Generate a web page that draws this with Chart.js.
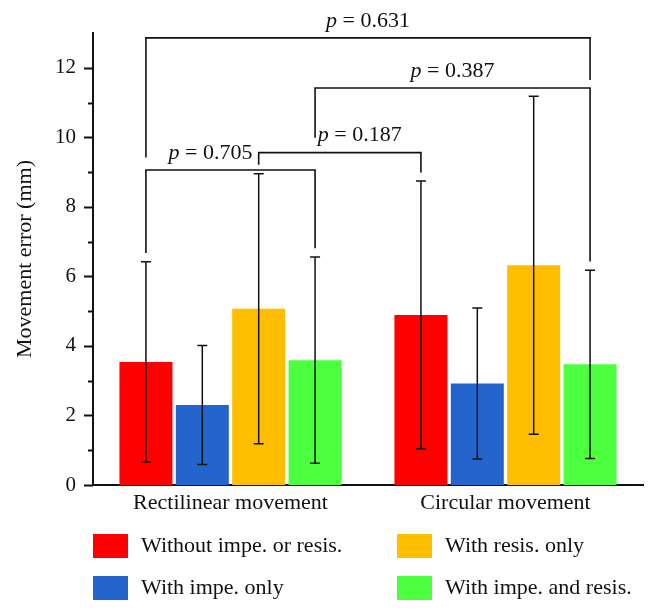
<!DOCTYPE html>
<html lang="en">
<head>
<meta charset="UTF-8" />
<title>Movement error</title>
<style>
  * { margin: 0; padding: 0; box-sizing: border-box; }
  body { background: #fff; }
  .chartBox { width: 658px; height: 614px; }
</style>
</head>
<body>
<div class="chartBox"><canvas id="myChart"></canvas></div>
<script src="https://cdn.jsdelivr.net/npm/chart.js"></script>
<script>
const categories = ["Rectilinear movement", "Circular movement"];
const seriesLabels = ["Without impe. or resis.", "With impe. only", "With resis. only", "With impe. and resis."];
const meanWithout = [3.54, 4.89];
const meanImpe = [2.30, 2.92];
const meanResis = [5.07, 6.32];
const meanBoth = [3.59, 3.47];
const sdWithout = [2.88, 3.85];
const sdImpe = [1.71, 2.17];
const sdResis = [3.885, 4.86];
const sdBoth = [2.965, 2.705];
const yTicks = [0, 2, 4, 6, 8, 10, 12];

// significance brackets, ends given as [category, series]
const pValues = ["0.705", "0.187", "0.387", "0.631"];
const bracketFrom = [[0, 0], [0, 2], [0, 3], [0, 0]];
const bracketTo = [[0, 3], [1, 0], [1, 3], [1, 3]];
const bracketLevel = [9.06, 9.56, 11.42, 12.86];
const legFromEnd = [6.67, 9.21, 9.99, 9.42];
const legToEnd = [6.81, 8.99, 6.43, 11.65];

const colors = ["#fe0000", "#2465cd", "#ffbe00", "#4cff3f"];
const labelShift = [-20, 20, 0, 0];
const FONT = "'Liberation Serif', 'Times New Roman', serif";
const INK = "#111";

const means = [meanWithout, meanImpe, meanResis, meanBoth];
const sds = [sdWithout, sdImpe, sdResis, sdBoth];

const data = {
  labels: categories,
  datasets: seriesLabels.map((label, i) => ({
    label: label,
    data: means[i],
    errors: sds[i],
    backgroundColor: colors[i],
    borderWidth: 0,
    categoryPercentage: 0.82,
    barPercentage: 0.94,
  })),
};

const errorBars = {
  id: "errorBars",
  afterDatasetsDraw(chart) {
    const { ctx, scales: { y } } = chart;
    ctx.save();
    ctx.strokeStyle = INK;
    ctx.lineWidth = 1.5;
    chart.data.datasets.forEach((ds, i) => {
      chart.getDatasetMeta(i).data.forEach((bar, j) => {
        const hi = y.getPixelForValue(ds.data[j] + ds.errors[j]);
        const lo = y.getPixelForValue(ds.data[j] - ds.errors[j]);
        ctx.beginPath();
        ctx.moveTo(bar.x, hi);
        ctx.lineTo(bar.x, lo);
        ctx.moveTo(bar.x - 5, hi);
        ctx.lineTo(bar.x + 5, hi);
        ctx.moveTo(bar.x - 5, lo);
        ctx.lineTo(bar.x + 5, lo);
        ctx.stroke();
      });
    });
    ctx.restore();
  },
};

const brackets = {
  id: "brackets",
  afterDatasetsDraw(chart) {
    const { ctx, scales: { y } } = chart;
    ctx.save();
    ctx.strokeStyle = INK;
    ctx.fillStyle = INK;
    ctx.lineWidth = 1.6;
    ctx.textBaseline = "middle";
    pValues.forEach((p, k) => {
      const x1 = chart.getDatasetMeta(bracketFrom[k][1]).data[bracketFrom[k][0]].x;
      const x2 = chart.getDatasetMeta(bracketTo[k][1]).data[bracketTo[k][0]].x;
      const yl = y.getPixelForValue(bracketLevel[k]);
      ctx.beginPath();
      ctx.moveTo(x1, y.getPixelForValue(legFromEnd[k]));
      ctx.lineTo(x1, yl);
      ctx.lineTo(x2, yl);
      ctx.lineTo(x2, y.getPixelForValue(legToEnd[k]));
      ctx.stroke();

      const rest = " = " + p;
      ctx.font = "italic 22px " + FONT;
      const wp = ctx.measureText("p").width;
      ctx.font = "22px " + FONT;
      const wr = ctx.measureText(rest).width;
      const cx = (x1 + x2) / 2 + labelShift[k];
      const sx = cx - (wp + wr) / 2;
      const ty = yl - 17;
      ctx.textAlign = "left";
      ctx.font = "italic 22px " + FONT;
      ctx.fillText("p", sx, ty);
      ctx.font = "22px " + FONT;
      ctx.fillText(rest, sx + wp, ty);
    });
    ctx.restore();
  },
};

const yTickMarks = {
  id: "yTickMarks",
  afterDraw(chart) {
    const { ctx, chartArea, scales: { y } } = chart;
    ctx.save();
    ctx.strokeStyle = INK;
    ctx.lineWidth = 2;
    ctx.beginPath();
    for (let v = yTicks[0]; v <= yTicks[yTicks.length - 1]; v++) {
      const len = yTicks.includes(v) ? 9 : 5;
      const py = Math.round(y.getPixelForValue(v)) + 0.5;
      ctx.moveTo(chartArea.left - len, py);
      ctx.lineTo(chartArea.left, py);
    }
    ctx.stroke();
    ctx.restore();
  },
};

const gridLegend = {
  id: "gridLegend",
  afterDraw(chart) {
    const { ctx, chartArea } = chart;
    ctx.save();
    ctx.font = "22px " + FONT;
    ctx.textBaseline = "middle";
    ctx.textAlign = "left";
    chart.data.datasets.forEach((ds, i) => {
      const col = Math.floor(i / 2);
      const row = i % 2;
      const x = chartArea.left + col * 304;
      const cy = 546 + row * 42;
      ctx.fillStyle = ds.backgroundColor;
      ctx.fillRect(x, cy - 12, 35, 24);
      ctx.fillStyle = INK;
      ctx.fillText(ds.label, x + 48, cy);
    });
    ctx.restore();
  },
};

const config = {
  type: "bar",
  data: data,
  options: {
    responsive: true,
    maintainAspectRatio: false,
    animation: false,
    layout: { padding: { top: 33, right: 15, left: 0, bottom: 0 } },
    plugins: {
      legend: { display: false },
      tooltip: { enabled: false },
    },
    scales: {
      x: {
        grid: { display: false, drawTicks: false },
        border: { color: INK, width: 2 },
        ticks: { color: INK, font: { family: FONT, size: 22 }, padding: 5 },
        afterFit(scale) { scale.height = 129; },
      },
      y: {
        min: 0,
        max: 13,
        grid: { display: false, drawTicks: false },
        border: { color: INK, width: 2 },
        ticks: {
          stepSize: 1,
          autoSkip: false,
          padding: 17,
          color: INK,
          font: { family: FONT, size: 21 },
          callback: (v) => (yTicks.includes(v) ? v : ""),
        },
        title: {
          display: true,
          text: "Movement error (mm)",
          color: INK,
          font: { family: FONT, size: 22 },
          padding: { top: 12, bottom: 0 },
        },
        afterFit(scale) { scale.width = 93; },
      },
    },
  },
  plugins: [errorBars, brackets, yTickMarks, gridLegend],
};

const myChart = new Chart(document.getElementById("myChart"), config);
</script>
</body>
</html>
